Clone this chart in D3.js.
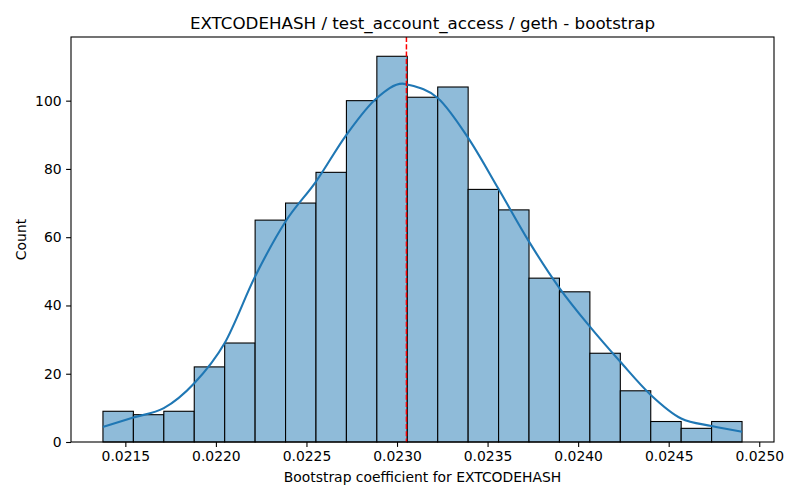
<!DOCTYPE html>
<html>
<head>
<meta charset="utf-8">
<script src="https://cdn.jsdelivr.net/npm/d3@7"></script>
<style>
  body { margin: 0; background: #fff; }
  text { font-family: "DejaVu Sans", sans-serif; fill: #000; }
</style>
</head>
<body>
<div class="container"></div>
<script>
// histogram counts, 21 equal bins between the data min and max
var binCounts = [9, 8, 9, 22, 29, 65, 70, 79, 100, 113, 101, 104, 74, 68, 48, 44, 26, 15, 6, 4, 6];
const DATA_MIN = 0.0213764;
const DATA_MAX = 0.024905;

// kde curve (x in data units, y in counts)
var kdeX = [0.0213764, 0.0215444, 0.0217124, 0.0218805, 0.0220485, 0.0222165, 0.0223846, 0.0225526,
            0.0227206, 0.0228887, 0.0230300, 0.0230567, 0.0232247, 0.0233928, 0.0235608, 0.0237288,
            0.0238969, 0.0240649, 0.0242329, 0.0244010, 0.0245690, 0.0247370, 0.024905];
var kdeY = [4.4, 7.2, 9.9, 17.2, 29.0, 48.5, 64.6, 76.3, 90.0, 100.8, 105.0, 104.7, 100.8, 89.1,
            74.1, 58.7, 45.1, 33.8, 23.5, 13.8, 6.9, 4.7, 3.0];

var meanValue = 0.023052;

var xTicks = [0.0215, 0.0220, 0.0225, 0.0230, 0.0235, 0.0240, 0.0245, 0.0250];
var yTicks = [0, 20, 40, 60, 80, 100];

const WIDTH = 800;
const HEIGHT = 500;
const LEFT = 71, RIGHT = 774, TOP = 37, BOTTOM = 442;

var translate = function(x, y){
  return "translate(" + x + "," + y + ")";
};

var span = DATA_MAX - DATA_MIN;
var binWidth = span / binCounts.length;

var xScale = d3.scaleLinear()
  .domain([DATA_MIN - 0.05 * span, DATA_MAX + 0.05 * span])
  .range([LEFT, RIGHT]);

var yScale = d3.scaleLinear()
  .domain([0, d3.max(binCounts) * 1.05])
  .range([BOTTOM, TOP]);

var svg = d3.select('.container').append('svg')
  .attr('width', WIDTH)
  .attr('height', HEIGHT);

// bars
svg.append('g').selectAll('rect').data(binCounts)
  .enter().append('rect')
  .attr('x', function(d, i){ return xScale(DATA_MIN + i * binWidth); })
  .attr('y', function(d){ return yScale(d); })
  .attr('width', function(d, i){ return xScale(DATA_MIN + (i + 1) * binWidth) - xScale(DATA_MIN + i * binWidth); })
  .attr('height', function(d){ return BOTTOM - yScale(d); })
  .attr('fill', '#8fbbd9')
  .attr('stroke', '#000')
  .attr('stroke-width', 1.1);

// kde line
var line = d3.line()
  .x(function(d, i){ return xScale(kdeX[i]); })
  .y(function(d){ return yScale(d); })
  .curve(d3.curveMonotoneX);

svg.append('path')
  .datum(kdeY)
  .attr('d', line)
  .attr('fill', 'none')
  .attr('stroke', '#1f77b4')
  .attr('stroke-width', 2.1)
  .attr('stroke-linecap', 'butt');

// mean line
svg.append('line')
  .attr('x1', xScale(meanValue)).attr('x2', xScale(meanValue))
  .attr('y1', TOP).attr('y2', BOTTOM)
  .attr('stroke', '#ff0000')
  .attr('stroke-width', 1.5)
  .attr('stroke-dasharray', '5.1,2.2');

// axes
var xAxis = d3.axisBottom(xScale).tickValues(xTicks).tickFormat(d3.format('.4f')).tickSizeOuter(0).tickSize(4.9).tickPadding(4.5);
var yAxis = d3.axisLeft(yScale).tickValues(yTicks).tickSizeOuter(0).tickSize(4.9).tickPadding(4.5);

var gx = svg.append('g').attr('transform', translate(0, BOTTOM)).call(xAxis);
var gy = svg.append('g').attr('transform', translate(LEFT, 0)).call(yAxis);
[gx, gy].forEach(function(g){
  g.select('.domain').remove();
  g.selectAll('.tick line').attr('stroke', '#000').attr('stroke-width', 1.1);
  g.selectAll('.tick text').attr('font-size', 13.9).attr('font-family', 'DejaVu Sans').attr('fill', '#000');
});

// frame
svg.append('rect')
  .attr('x', LEFT).attr('y', TOP)
  .attr('width', RIGHT - LEFT).attr('height', BOTTOM - TOP)
  .attr('fill', 'none')
  .attr('stroke', '#000')
  .attr('stroke-width', 1.1);

// labels
svg.append('text')
  .attr('x', (LEFT + RIGHT) / 2).attr('y', 29)
  .attr('text-anchor', 'middle')
  .attr('font-size', 16.7)
  .text('EXTCODEHASH / test_account_access / geth - bootstrap');

svg.append('text')
  .attr('x', (LEFT + RIGHT) / 2).attr('y', 482)
  .attr('text-anchor', 'middle')
  .attr('font-size', 13.9)
  .text('Bootstrap coefficient for EXTCODEHASH');

svg.append('text')
  .attr('transform', translate(26, (TOP + BOTTOM) / 2) + ' rotate(-90)')
  .attr('text-anchor', 'middle')
  .attr('font-size', 13.9)
  .text('Count');
</script>
</body>
</html>
